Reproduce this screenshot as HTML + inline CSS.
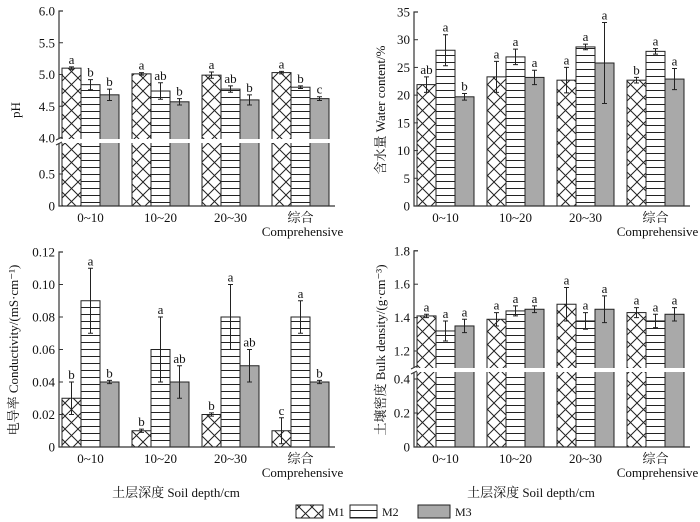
<!DOCTYPE html>
<html><head><meta charset="utf-8"><style>
body{margin:0;background:#fff;}
svg{display:block;font-family:"Liberation Serif","Noto Serif CJK SC",serif;}
</style></head><body>
<svg id="chart" width="700" height="522" viewBox="0 0 700 522" xmlns="http://www.w3.org/2000/svg">
<defs>
<pattern id="pCross" patternUnits="userSpaceOnUse" width="13" height="13">
<rect width="13" height="13" fill="#fff"/>
<path d="M0,0L13,13M13,0L0,13" stroke="#222" stroke-width="1"/>
</pattern>
<pattern id="pHor" patternUnits="userSpaceOnUse" width="12" height="7">
<rect width="12" height="7" fill="#fff"/>
<path d="M0,6.5H12" stroke="#222" stroke-width="1"/>
</pattern>
</defs>
<g id="root"></g>
</svg>
<script>
const categories = ["0~10","10~20","20~30","综合"];
const series = ["M1","M2","M3"];
// pH
const phM1 = [5.10,5.01,4.99,5.03];
const phM2 = [4.84,4.74,4.77,4.80];
const phM3 = [4.68,4.57,4.60,4.62];
const phErr1 = [0.02,0.02,0.05,0.02];
const phErr2 = [0.08,0.13,0.05,0.02];
const phErr3 = [0.09,0.05,0.08,0.03];
const phLetters = [["a","b","b"],["a","ab","b"],["a","ab","b"],["a","b","c"]];
const phTicks = ["0","0.5","4.0","4.5","5.0","5.5","6.0"];
const phTickVals = [0,0.5,4.0,4.5,5.0,5.5,6.0];
// water content
const wcM1 = [21.9,23.3,22.7,22.7];
const wcM2 = [28.1,26.9,28.7,27.9];
const wcM3 = [19.7,23.2,25.8,22.9];
const wcErr1 = [1.4,2.8,2.3,0.5];
const wcErr2 = [2.8,1.4,0.5,0.5];
const wcErr3 = [0.6,1.3,7.3,1.9];
const wcLetters = [["ab","a","b"],["a","a","a"],["a","a","a"],["b","a","a"]];
const wcTickVals = [0,5,10,15,20,25,30,35];
// conductivity
const ecM1 = [0.03,0.01,0.02,0.01];
const ecM2 = [0.09,0.06,0.08,0.08];
const ecM3 = [0.04,0.04,0.05,0.04];
const ecErr1 = [0.01,0.001,0.001,0.008];
const ecErr2 = [0.02,0.02,0.02,0.01];
const ecErr3 = [0.001,0.01,0.01,0.001];
const ecLetters = [["b","a","b"],["b","a","ab"],["b","a","ab"],["c","a","b"]];
const ecTickVals = [0,0.02,0.04,0.06,0.08,0.10,0.12];
const ecTicks = ["0","0.02","0.04","0.06","0.08","0.10","0.12"];
// bulk density
const bdM1 = [1.41,1.39,1.48,1.43];
const bdM2 = [1.32,1.44,1.38,1.38];
const bdM3 = [1.35,1.45,1.45,1.42];
const bdErr1 = [0.01,0.04,0.10,0.03];
const bdErr2 = [0.06,0.03,0.05,0.04];
const bdErr3 = [0.04,0.02,0.08,0.04];
const bdLetters = [["a","a","a"],["a","a","a"],["a","a","a"],["a","a","a"]];
const bdTickVals = [0,0.2,0.4,1.2,1.4,1.6,1.8];
const bdTicks = ["0","0.2","0.4","1.2","1.4","1.6","1.8"];

const NS="http://www.w3.org/2000/svg";
const root=document.getElementById('root');
function mk(tag,attrs,parent,text){const e=document.createElementNS(NS,tag);for(const k in attrs)e.setAttribute(k,attrs[k]);if(text!==undefined)e.textContent=text;(parent||root).appendChild(e);return e;}
const fills=["url(#pCross)","url(#pHor)","#a9a9a9"];

function panel(o){
  const g=mk('g',{});
  
  
  const x0=o.x0, xEnd=x0+276;
  const gx=i=>x0+3+i*70;
  const bw=19;
  const vals=[o.s1,o.s2,o.s3], errs=[o.e1,o.e2,o.e3];
  const base=o.y(0);
  for(let i=0;i<categories.length;i++){
    for(let s=0;s<3;s++){
      const v=vals[s][i], bx=gx(i)+s*bw, by=o.y(v);
      const r=mk('rect',{x:bx,y:by,width:bw,height:base-by,fill:fills[s],stroke:'#222','stroke-width':1},g);
      
      
      const e=errs[s][i], cx=bx+bw/2, yt=o.y(v+e), yb=o.y(v-e);
      const eb=mk('path',{d:`M${cx},${yt}V${yb}M${cx-2.5},${yt}H${cx+2.5}M${cx-2.5},${yb}H${cx+2.5}`,stroke:'#222','stroke-width':1,fill:'none'},g);
      
      
      const t=mk('text',{x:cx,y:yt-3,'text-anchor':'middle','font-size':13,fill:'#111'},g,o.letters[i][s]);
      
      
    }
    const cx=gx(i)+28.5;
    const lab=mk('text',{x:cx,y:base+16,'text-anchor':'middle','font-size':13,fill:'#111'},g,categories[i]);
    
    
    if(i===3){const c=mk('text',{x:cx+2,y:base+30,'text-anchor':'middle','font-size':13,fill:'#111'},g,'Comprehensive');
      
      }
  }
  if(o.brk){
    const gap=mk('rect',{x:x0+1,y:o.brk[0],width:276,height:o.brk[1]-o.brk[0],fill:'#fff'},g);
    
    
  }
  const ax=mk('path',{d:o.brk?`M${x0+4},${o.y(o.top)}H${x0}V${o.brk[0]}M${x0},${o.brk[1]}V${base}H${xEnd}`:`M${x0+4},${o.y(o.top)}H${x0}V${base}H${xEnd}`,stroke:'#333','stroke-width':1.2,fill:'none'},g);
  
  
  if(o.brk){const m=mk('path',{d:`M${x0-3},${o.brk[0]+1}L${x0+3},${o.brk[0]-2}M${x0-3},${o.brk[1]+2}L${x0+3},${o.brk[1]-1}`,stroke:'#333','stroke-width':1},g);
    
    }
  o.ticks.forEach((tv,k)=>{
    const ty=o.y(tv);
    mk('path',{d:`M${x0},${ty}H${x0+4}`,stroke:'#333'},g);
    const t=mk('text',{x:x0-4,y:ty+4.5,'text-anchor':'end','font-size':13,fill:'#111'},g,o.tickLabels[k]);
    
    
  });
  const yt=mk('text',{x:o.titleX,y:o.titleY,'text-anchor':'middle','font-size':13,fill:'#111',transform:`rotate(-90 ${o.titleX} ${o.titleY})`},g,o.title);
  
  
  if(o.xtitle){const xt=mk('text',{x:x0+117,y:base+50,'text-anchor':'middle','font-size':13,fill:'#111'},g,o.xtitle);
    
    }
}
panel({name:'ph-panel',x0:59,s1:phM1,s2:phM2,s3:phM3,e1:phErr1,e2:phErr2,e3:phErr3,letters:phLetters,top:6,
  y:v=>v>=3.97?138-(v-4)*63.5:206-v*64,brk:[139,143],ticks:phTickVals,tickLabels:phTicks,title:'pH',titleX:20,titleY:110});
panel({name:'water-content-panel',x0:414,s1:wcM1,s2:wcM2,s3:wcM3,e1:wcErr1,e2:wcErr2,e3:wcErr3,letters:wcLetters,top:35,
  y:v=>206-v*194/35,ticks:wcTickVals,tickLabels:wcTickVals.map(String),title:'含水量 Water content/%',titleX:385,titleY:110});
panel({name:'conductivity-panel',x0:59,s1:ecM1,s2:ecM2,s3:ecM3,e1:ecErr1,e2:ecErr2,e3:ecErr3,letters:ecLetters,top:0.12,
  y:v=>447-v*195/0.12,ticks:ecTickVals,tickLabels:ecTicks,title:'电导率 Conductivity/(mS·cm⁻¹)',titleX:18,titleY:350,xtitle:'土层深度 Soil depth/cm'});
panel({name:'bulk-density-panel',x0:414,s1:bdM1,s2:bdM2,s3:bdM3,e1:bdErr1,e2:bdErr2,e3:bdErr3,letters:bdLetters,top:1.8,
  y:v=>v>=1.1?351-(v-1.2)*167:447-v*170,brk:[368,372],ticks:bdTickVals,tickLabels:bdTicks,title:'土壤密度 Bulk density/(g·cm⁻³)',titleX:385,titleY:350,xtitle:'土层深度 Soil depth/cm'});

const lg=mk('g',{});


const lx=[296,350,418];
series.forEach((s,i)=>{
  const r=mk('rect',{x:lx[i],y:505,width:(i===2?32:27),height:13,fill:fills[i],stroke:'#222'},lg);
  
  
  const t=mk('text',{x:lx[i]+(i===2?37:32),y:516,'font-size':12,fill:'#111'},lg,s);
  
  
});
</script>
</body></html>
